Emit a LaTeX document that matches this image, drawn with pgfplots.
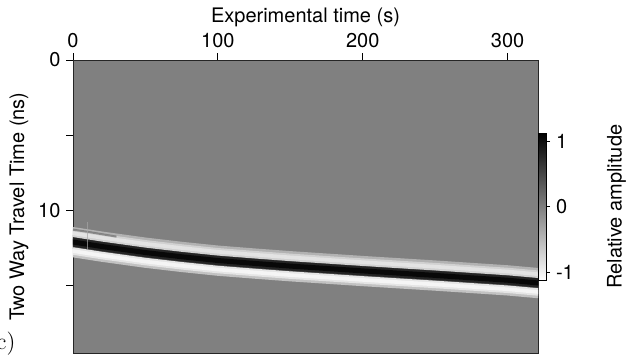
\documentclass[border=0pt]{standalone}
\usepackage{fontspec}
\setsansfont{TeX Gyre Heros}
\renewcommand{\familydefault}{\sfdefault}
\usepackage{pgfplots}
\pgfplotsset{compat=1.18}
\usepackage{pgfplotstable}
\usetikzlibrary{calc}
\definecolor{midgray}{RGB}{128,128,128}

% black centre of the reflection and the two white side lobes (ns)
\pgfplotstableread{
x    top    mid    bot
-3   11.50  12.08  12.68
0    11.52  12.10  12.70
10   11.67  12.25  12.85
20   11.82  12.40  13.00
35   12.02  12.60  13.20
50   12.22  12.80  13.40
75   12.50  13.08  13.68
100  12.75  13.33  13.93
125  12.94  13.52  14.12
150  13.12  13.70  14.30
175  13.28  13.86  14.46
200  13.44  14.02  14.62
225  13.59  14.17  14.77
250  13.74  14.32  14.92
275  13.90  14.48  15.08
300  14.06  14.64  15.24
321  14.24  14.82  15.42
325  14.27  14.85  15.45
}\band

\pgfplotstableread{
x   y
0   11.28
10  11.42
20  11.58
30  11.74
}\fringe

\begin{document}
\begin{tikzpicture}[font=\fontsize{12}{14}\selectfont]
\begin{axis}[
  name=ax,
  scale only axis,
  width=279pt, height=176pt,
  xmin=0, xmax=321, ymin=0, ymax=19.5,
  y dir=reverse,
  axis background/.style={fill=midgray},
  axis line style={black!85, line width=0.5pt},
  xtick={0,100,200,300},
  xtick pos=right, xticklabel pos=right,
  ytick={0,10}, minor ytick={5,15},
  ytick pos=left,
  tick align=outside,
  major tick length=4pt, minor tick length=4pt,
  tick style={black, line width=0.5pt},
  tick label style={font=\fontsize{12}{14}\selectfont},
  label style={font=\fontsize{12}{14}\selectfont},
  /pgf/number format/assume math mode=true,
  xlabel={Experimental time (s)},
  ylabel={Two Way Travel Time (ns)},
  xlabel style={yshift=-3pt},
  ylabel style={yshift=-1pt},
  colorbar,
  colormap={bw}{gray(0cm)=(1); gray(1cm)=(0)},
  point meta min=-1.12, point meta max=1.12,
  colorbar style={
    at={(1,0.5)}, anchor=west, xshift=4.2pt,
    width=4.8pt, height=88pt,
    ytick={-1,0,1}, yticklabels={-1,0,1},
    ytick pos=right, yticklabel pos=right,
    tick align=outside, major tick length=2.5pt,
    axis line style={black, line width=0.5pt},
    tick label style={font=\fontsize{12}{14}\selectfont},
    ylabel={Relative amplitude},
    ylabel style={font=\fontsize{12}{14}\selectfont, yshift=-13pt},
  },
]
% halos
\addplot[no markers, line width=7.5pt, color=black!30] table[x=x,y=top]{\band};
\addplot[no markers, line width=7.5pt, color=black!24] table[x=x,y=bot]{\band};
\addplot[no markers, line width=8.5pt, color=black!68] table[x=x,y=mid]{\band};
% intermediate
\addplot[no markers, line width=4.5pt, color=black!18] table[x=x,y=top]{\band};
\addplot[no markers, line width=4.5pt, color=black!10] table[x=x,y=bot]{\band};
\addplot[no markers, line width=5.5pt, color=black!86] table[x=x,y=mid]{\band};
% cores
\addplot[no markers, line width=2.2pt, color=black!11] table[x=x,y=top]{\band};
\addplot[no markers, line width=2.2pt, color=black!4] table[x=x,y=bot]{\band};
\addplot[no markers, line width=3pt, color=black!97] table[x=x,y=mid]{\band};
% early dark fringe and small vertical streak
\addplot[no markers, line width=1.2pt, color=black!58, opacity=0.7] table[x=x,y=y]{\fringe};
\addplot[no markers, line width=0.6pt, color=black!35, opacity=0.7] coordinates {(10,10.8) (10,12.6)};
\end{axis}
\node[anchor=base east, font=\rmfamily\fontsize{14}{16}\selectfont]
  at ($(ax.north west)+(-31pt,-174pt)$) {(c)};
\pgfresetboundingbox
\path ($(ax.north west)+(-43.8pt,36pt)$) rectangle ++(377.4pt,-213.6pt);
\end{tikzpicture}
\end{document}
